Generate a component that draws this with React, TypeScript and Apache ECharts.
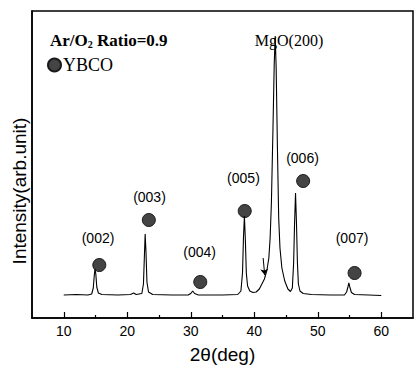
import React, { useEffect, useRef } from "react";
import * as echarts from "echarts";

// XRD pattern (2θ in degrees, intensity in arbitrary units)
const twoTheta = [
  10.0, 12.0, 13.8, 14.4, 14.65, 14.8, 14.92, 15.05, 15.2, 15.45, 16.0, 18.5, 20.5, 21.0, 21.4,
  22.3, 22.55, 22.7, 22.82, 22.95, 23.1, 23.35, 24.0, 27.0, 29.6, 30.0, 30.3, 30.6, 31.2, 35.0,
  37.4, 37.9, 38.15, 38.3, 38.45, 38.6, 38.75, 38.95, 39.3, 39.8, 40.3, 40.8, 41.2, 41.6, 42.0,
  42.3, 42.5, 42.7, 42.95, 43.15, 43.3, 43.45, 43.65, 43.85, 44.05, 44.35, 44.8, 45.3, 45.7, 46.0,
  46.2, 46.35, 46.5, 46.65, 46.8, 46.95, 47.2, 47.7, 49.0, 52.0, 54.2, 54.55, 54.75, 54.9, 55.05,
  55.3, 55.8, 58.0, 60.0,
];
const intensity = [
  23, 23.5, 23, 24, 30, 42, 49, 44, 31, 25, 23.5, 23, 23.5, 25, 23.5,
  24.5, 34, 62, 84, 66, 36, 26, 23.5, 23, 23, 24.5, 27, 24.5, 23, 23,
  23.5, 27, 45, 80, 102, 78, 45, 32, 27, 25.5, 26, 29, 34, 39, 48,
  60, 80, 115, 190, 255, 282, 250, 170, 100, 70, 50, 37, 29, 26.5, 30,
  55, 95, 125, 95, 55, 34, 27, 24.5, 23.5, 23, 23, 26, 31, 35, 31,
  25.5, 23.5, 23, 22.5,
];

// YBCO reflections: marker positions and label positions
const peakNames = ["(002)", "(003)", "(004)", "(005)", "(006)", "(007)"];
const markerTheta = [15.6, 23.4, 31.5, 38.5, 47.7, 55.8];
const markerValue = [53, 98, 36, 107, 137, 45];
const labelTheta = [15.4, 23.5, 31.4, 38.3, 47.6, 55.4];
const labelValue = [80, 121, 66, 140, 160, 80];

const xTickValues = [10, 20, 30, 40, 50, 60];
const xMinorTickValues = [15, 25, 35, 45, 55];

export default function App() {
  const ref = useRef<HTMLDivElement>(null);

  useEffect(() => {
    if (!ref.current) return;
    const chart = echarts.init(ref.current, null, { renderer: "svg" });
    const lineData = twoTheta.map((t, i) => [t, intensity[i]]);
    const markerData = markerTheta.map((t, i) => [t, markerValue[i]]);
    const labelData = peakNames.map((n, i) => ({ name: n, value: [labelTheta[i], labelValue[i]] }));

    chart.setOption({
      animation: false,
      backgroundColor: "#fff",
      grid: {
        left: 32,
        right: 2,
        top: 11,
        bottom: 53,
        show: true,
        borderColor: "#000",
        borderWidth: 1.5,
        backgroundColor: "transparent",
      },
      legend: {
        data: [{ name: "YBCO", icon: "circle" }],
        left: 47,
        top: 56,
        padding: 0,
        itemWidth: 13,
        itemHeight: 13,
        itemStyle: { opacity: 1 },
        textStyle: { fontFamily: "Liberation Serif", fontSize: 18, color: "#000", padding: [0, 0, 0, -3] },
      },
      xAxis: [
        {
          type: "value",
          min: 5,
          max: 65,
          name: "2θ(deg)",
          nameLocation: "middle",
          nameGap: 27,
          nameTextStyle: { fontFamily: "Liberation Sans", fontSize: 19, color: "#000" },
          axisLine: { show: true, lineStyle: { color: "#000", width: 1.5 } },
          axisTick: { show: true, inside: true, length: 6, customValues: xTickValues, lineStyle: { color: "#000", width: 1.2 } },
          axisLabel: { show: true, customValues: xTickValues, fontFamily: "Liberation Sans", fontSize: 14, color: "#000", margin: 6 },
          splitLine: { show: false },
        },
        {
          type: "value",
          min: 5,
          max: 65,
          position: "bottom",
          axisLine: { show: false },
          axisTick: { show: true, inside: true, length: 3, customValues: xMinorTickValues, lineStyle: { color: "#000", width: 1.2 } },
          axisLabel: { show: false },
          splitLine: { show: false },
        },
      ],
      yAxis: {
        type: "value",
        min: 0,
        max: 307,
        axisLine: { show: true, lineStyle: { color: "#000", width: 1.5 } },
        axisTick: { show: false },
        axisLabel: { show: false },
        splitLine: { show: false },
      },
      graphic: [
        {
          type: "text",
          x: 19,
          y: 191,
          rotation: Math.PI / 2,
          style: {
            text: "Intensity(arb.unit)",
            fontFamily: "Liberation Sans",
            fontSize: 19,
            fill: "#000",
            align: "center",
            verticalAlign: "middle",
          },
        },
        {
          type: "text",
          x: 50,
          y: 40,
          style: {
            text: "{a|Ar/O}{s|2}{a| Ratio=0.9}",
            fill: "#000",
            verticalAlign: "middle",
            rich: {
              a: { fontFamily: "Liberation Serif", fontWeight: "bold", fontSize: 17, fill: "#000" },
              s: { fontFamily: "Liberation Serif", fontWeight: "bold", fontSize: 10, fill: "#000", padding: [9, 0, 0, 0] },
            },
          },
        },
        {
          type: "text",
          x: 289,
          y: 40,
          style: {
            text: "MgO(200)",
            fontFamily: "Liberation Serif",
            fontSize: 16,
            fill: "#000",
            align: "center",
            verticalAlign: "middle",
          },
        },
      ],
      series: [
        {
          type: "line",
          name: "XRD",
          data: lineData,
          showSymbol: false,
          symbol: "none",
          lineStyle: { color: "#000", width: 1.1 },
          markLine: {
            silent: true,
            symbol: ["none", "arrow"],
            symbolSize: 6,
            label: { show: false },
            lineStyle: { color: "#000", width: 1, type: "solid" },
            data: [[{ coord: [41.4, 60] }, { coord: [41.65, 43] }]],
          },
        },
        {
          type: "scatter",
          name: "YBCO",
          data: markerData,
          symbol: "circle",
          symbolSize: 13,
          itemStyle: { color: "#444", borderColor: "#1a1a1a", borderWidth: 1, opacity: 1 },
        },
        {
          type: "scatter",
          name: "labels",
          data: labelData,
          symbolSize: 0,
          itemStyle: { opacity: 1 },
          label: {
            show: true,
            position: "inside",
            formatter: "{b}",
            fontFamily: "Liberation Sans",
            fontSize: 14,
            color: "#000",
            opacity: 1,
          },
        },
      ],
    });
    return () => chart.dispose();
  }, []);

  return <div ref={ref} style={{ width: 415, height: 371, position: "absolute", left: 0, top: 0 }} />;
}
